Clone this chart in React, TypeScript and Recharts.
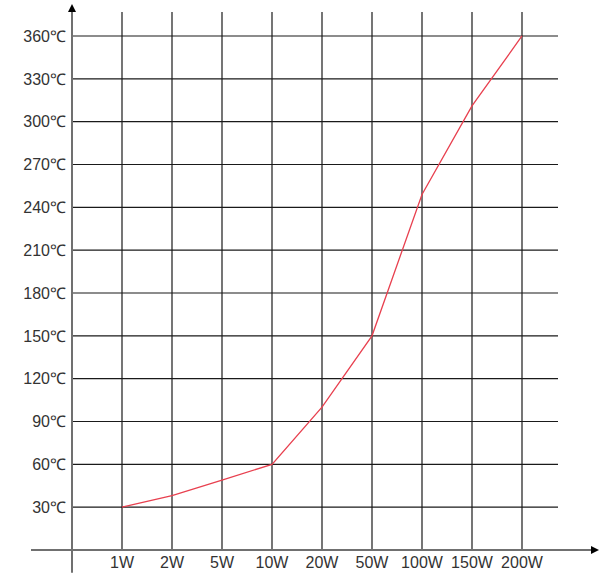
import React from "react";
import {
  CartesianGrid,
  Line,
  LineChart,
  ReferenceDot,
  ReferenceLine,
  XAxis,
  YAxis,
} from "recharts";

const powerLabels = ["1W", "2W", "5W", "10W", "20W", "50W", "100W", "150W", "200W"];
const powerTicks = [1, 2, 3, 4, 5, 6, 7, 8, 9];
const temperatures = [30, 38, 49, 60, 100, 150, 249, 311, 360];
const tempTicks = [30, 60, 90, 120, 150, 180, 210, 240, 270, 300, 330, 360];

const xDomain = [0, 9.72];
const yDomain = [0, 376.8];

const data = powerLabels.map((label, i) => ({
  i: powerTicks[i],
  label,
  temp: temperatures[i],
}));

const axisColor = "#707070";
const font = "'Liberation Sans', Arial, sans-serif";

// grid only at tick values (no border lines at the plot edges)
const scaleOf = (axis: any, domain: number[], start: number, size: number, flip: boolean) => {
  if (axis && typeof axis.scale === "function") return (v: number) => axis.scale(v);
  return (v: number) => {
    const r = (v - domain[0]) / (domain[1] - domain[0]);
    return flip ? start + size * (1 - r) : start + size * r;
  };
};

const hLines = ({ yAxis, offset }: any) => {
  const s = scaleOf(yAxis, yDomain, offset.top, offset.height, true);
  return tempTicks.map((t) => s(t));
};

const vLines = ({ xAxis, offset }: any) => {
  const s = scaleOf(xAxis, xDomain, offset.left, offset.width, false);
  return powerTicks.map((t) => s(t));
};

const UpArrow = (props: any) => {
  const { cx, cy } = props;
  return (
    <polygon
      points={`${cx},${cy - 7} ${cx - 4},${cy + 1} ${cx + 4},${cy + 1}`}
      fill="#000"
    />
  );
};

const RightArrow = (props: any) => {
  const { cx, cy } = props;
  return (
    <polygon
      points={`${cx + 7},${cy} ${cx - 1},${cy - 4} ${cx - 1},${cy + 4}`}
      fill="#000"
    />
  );
};

export default function App() {
  return (
    <div style={{ position: "absolute", left: 0, top: 0, background: "#fff" }}>
      <LineChart
        width={600}
        height={588}
        data={data}
        margin={{ top: 12, right: 42, left: 0, bottom: 0 }}
      >
        <CartesianGrid
          stroke="#1a1a1a"
          strokeWidth={1.2}
          horizontalCoordinatesGenerator={hLines}
          verticalCoordinatesGenerator={vLines}
        />
        <XAxis
          dataKey="i"
          type="number"
          domain={xDomain}
          ticks={powerTicks}
          tickFormatter={(v) => powerLabels[v - 1]}
          axisLine={false}
          tickLine={false}
          tickSize={0}
          tickMargin={7}
          height={38}
          interval={0}
          tick={{ fill: "#333", fontSize: 16, fontFamily: font }}
        />
        <YAxis
          type="number"
          domain={yDomain}
          ticks={tempTicks}
          tickFormatter={(v) => `${v}℃`}
          axisLine={false}
          tickLine={false}
          tickSize={0}
          tickMargin={6}
          width={72}
          interval={0}
          tick={{ fill: "#333", fontSize: 16, fontFamily: font }}
        />
        <ReferenceLine
          segment={[
            { x: 0, y: -16 },
            { x: 0, y: 378 },
          ]}
          stroke={axisColor}
          strokeWidth={2}
          ifOverflow="visible"
        />
        <ReferenceLine
          segment={[
            { x: -0.82, y: 0 },
            { x: 10.4, y: 0 },
          ]}
          stroke={axisColor}
          strokeWidth={2}
          ifOverflow="visible"
        />
        <ReferenceDot x={0} y={377.5} ifOverflow="visible" shape={UpArrow} />
        <ReferenceDot x={10.4} y={0} ifOverflow="visible" shape={RightArrow} />
        <Line
          type="linear"
          dataKey="temp"
          stroke="#e8404f"
          strokeWidth={1.3}
          dot={false}
          isAnimationActive={false}
        />
      </LineChart>
    </div>
  );
}
